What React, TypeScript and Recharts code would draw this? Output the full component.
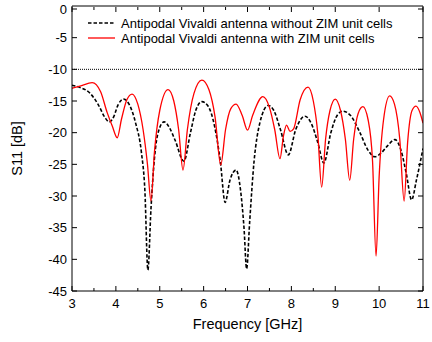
import { LineChart, Line, XAxis, YAxis, ReferenceLine, Legend } from 'recharts';

const seriesNames = [
  'Antipodal Vivaldi antenna without ZIM unit cells',
  'Antipodal Vivaldi antenna with ZIM unit cells',
];

// without ZIM (black dashed)
const freqWithout = [
  3.0, 3.2, 3.4, 3.6, 3.75, 3.85, 3.95, 4.05, 4.18, 4.3, 4.45, 4.58, 4.66, 4.73, 4.8, 4.88, 4.97,
  5.1, 5.22, 5.35, 5.55, 5.7, 5.82, 5.96, 6.1, 6.25, 6.38, 6.49, 6.6, 6.74, 6.84, 6.92, 6.98, 7.05,
  7.15, 7.28, 7.47, 7.6, 7.75, 7.93, 8.1, 8.31, 8.45, 8.6, 8.74, 8.9, 9.05, 9.17, 9.35, 9.55, 9.75,
  9.9, 10.05, 10.2, 10.36, 10.5, 10.62, 10.74, 10.85, 11.0,
];
const s11Without = [
  -12.5, -12.9, -13.7, -15.6, -17.6, -18.3, -17.5, -15.6, -14.7, -15.5, -18.5, -23.0, -29, -41.7, -32, -24, -19.8,
  -18.3, -19.2, -21.2, -24.5, -20, -16.5, -15.1, -15.8, -19, -24.5, -31, -27.5, -25.9, -29, -35, -41.5, -34,
  -24.5, -18.5, -15.7, -16.5, -19.5, -23.5, -19.5, -17.4, -18.5, -21.5, -24.8, -20, -17.2, -16.6, -17.3, -19.8, -22.8,
  -23.8, -23.2, -22, -21.1, -22.8, -26.5, -30.6, -27.5, -22.5,
];

// with ZIM (red)
const freqWith = [
  3.0, 3.2, 3.46, 3.65, 3.8, 3.92, 4.03, 4.13, 4.25, 4.37, 4.5, 4.62, 4.72, 4.8, 4.88, 5.0, 5.19,
  5.32, 5.43, 5.53, 5.63, 5.78, 5.96, 6.12, 6.26, 6.39, 6.5, 6.62, 6.74, 6.88, 7.0, 7.12, 7.35, 7.5,
  7.62, 7.74, 7.82, 7.89, 7.97, 8.05, 8.2, 8.38, 8.5, 8.6, 8.69, 8.78, 8.88, 9.0, 9.12, 9.23, 9.33,
  9.42, 9.52, 9.63, 9.75, 9.85, 9.93, 10.0, 10.1, 10.24, 10.35, 10.47, 10.57, 10.65, 10.75, 10.84, 10.93, 11.0,
];
const s11With = [
  -13, -12.6, -12.1, -13.5, -16.8, -19, -20.8, -17.8, -14.8, -13.9, -15.5, -19.5, -25, -30.8, -23, -16.5, -13.2,
  -15, -19.5, -25.9, -19.5, -13.8, -11.7, -13.2, -17.5, -25.1, -19.5, -16.2, -15.5, -17.3, -19.6, -17.2, -14.3, -16,
  -19.5, -24.1, -20.5, -18.8, -19.8, -19.4, -14.8, -12.8, -15, -20, -28.6, -21, -16.5, -14.7, -16.5, -21, -27.5,
  -21, -17, -15.9, -18, -24.5, -39.5, -27, -18, -14.2, -15.5, -21, -30.8, -21.5, -16.5, -15.8, -16.8, -18.5,
];

const xTicks = [3, 3.5, 4, 4.5, 5, 5.5, 6, 6.5, 7, 7.5, 8, 8.5, 9, 9.5, 10, 10.5, 11];
const yTicks = [-45, -42.5, -40, -37.5, -35, -32.5, -30, -27.5, -25, -22.5, -20, -17.5, -15, -12.5, -10, -7.5, -5, -2.5, 0];

const withoutData = freqWithout.map((f, i) => ({ f, v: s11Without[i] }));
const withData = freqWith.map((f, i) => ({ f, v: s11With[i] }));

const FONT = '"Liberation Sans", Arial, sans-serif';
const isMajor = (v: number) => v % 1 === 0 && v % 5 === 0;

function BottomTick({ x, y, payload }: any) {
  const major = Number.isInteger(payload.value);
  const ay = y - 5;
  return (
    <g>
      <line x1={x} x2={x} y1={ay} y2={ay - (major ? 5 : 3)} stroke="#000" />
      {major && (
        <text x={x} y={ay + 16.5} textAnchor="middle" fontSize={13} fontFamily={FONT} fill="#000">
          {payload.value}
        </text>
      )}
    </g>
  );
}

// top axis is 1px tall, so its line sits at y + 5 + 1
function TopTick({ x, y, payload }: any) {
  const major = Number.isInteger(payload.value);
  const ay = y + 6;
  return <line x1={x} x2={x} y1={ay} y2={ay + (major ? 5 : 3)} stroke="#000" />;
}

function LeftTick({ x, y, payload }: any) {
  const major = isMajor(payload.value);
  const ax = x + 5;
  return (
    <g>
      <line x1={ax} x2={ax + (major ? 5 : 3)} y1={y} y2={y} stroke="#000" />
      {major && (
        <text x={x} y={y + 4.5} textAnchor="end" fontSize={13} fontFamily={FONT} fill="#000">
          {payload.value}
        </text>
      )}
    </g>
  );
}

function RightTick({ x, y, payload }: any) {
  const major = isMajor(payload.value);
  const ax = x - 5;
  return <line x1={ax} x2={ax - (major ? 5 : 3)} y1={y} y2={y} stroke="#000" />;
}

const renderLegend = () => (
  <svg width={330} height={34} style={{ display: 'block' }}>
    <line x1={2} x2={29} y1={8} y2={8} stroke="#000" strokeWidth={1.6} strokeDasharray="3.5 2" />
    <text x={35} y={12.5} fontSize={13} fontFamily={FONT} fill="#000">{seriesNames[0]}</text>
    <line x1={2} x2={29} y1={23} y2={23} stroke="#ff0000" strokeWidth={1.3} />
    <text x={35} y={27.5} fontSize={13} fontFamily={FONT} fill="#000">{seriesNames[1]}</text>
  </svg>
);

export default function App() {
  return (
    <div style={{ width: 432, height: 342, background: '#fff' }}>
      <style>{'body{margin:0}'}</style>
      <LineChart width={432} height={342} margin={{ top: 5, right: 8, bottom: 0, left: 0 }}>
        <XAxis
          xAxisId={0}
          type="number"
          dataKey="f"
          domain={[3, 11]}
          ticks={xTicks}
          height={51}
          tickSize={0}
          tickMargin={5}
          tick={<BottomTick />}
          axisLine={{ stroke: '#000' }}
          allowDataOverflow
          label={{ value: 'Frequency [GHz]', position: 'insideBottom', offset: 13, fontSize: 14.5, fontFamily: FONT, fill: '#000' }}
        />
        <XAxis
          xAxisId="top"
          orientation="top"
          type="number"
          dataKey="f"
          domain={[3, 11]}
          ticks={xTicks}
          height={1}
          tickSize={0}
          tickMargin={5}
          tick={<TopTick />}
          axisLine={{ stroke: '#000' }}
          allowDataOverflow
        />
        <YAxis
          yAxisId={0}
          type="number"
          domain={[-45, 0]}
          ticks={yTicks}
          width={72}
          tickSize={0}
          tickMargin={5}
          tick={<LeftTick />}
          axisLine={{ stroke: '#000' }}
          allowDataOverflow
          label={{ value: 'S11 [dB]', position: 'insideLeft', angle: -90, offset: 17, fontSize: 14.5, fontFamily: FONT, fill: '#000', style: { textAnchor: 'middle' } }}
        />
        <YAxis
          yAxisId="right"
          orientation="right"
          type="number"
          domain={[-45, 0]}
          ticks={yTicks}
          width={1}
          tickSize={0}
          tickMargin={5}
          tick={<RightTick />}
          axisLine={{ stroke: '#000' }}
          allowDataOverflow
        />
        <ReferenceLine y={-10} stroke="#000" strokeWidth={1} strokeDasharray="1 1" />
        <Legend
          layout="vertical"
          align="center"
          verticalAlign="middle"
          content={renderLegend}
          wrapperStyle={{ top: 15, left: 86, width: 330, height: 34 }}
        />
        <Line
          data={withoutData}
          dataKey="v"
          type="monotone"
          stroke="#000"
          strokeWidth={1.6}
          strokeDasharray="3.5 2"
          dot={false}
          isAnimationActive={false}
        />
        <Line
          data={withData}
          dataKey="v"
          type="monotone"
          stroke="#ff0000"
          strokeWidth={1.3}
          dot={false}
          isAnimationActive={false}
        />
      </LineChart>
    </div>
  );
}
